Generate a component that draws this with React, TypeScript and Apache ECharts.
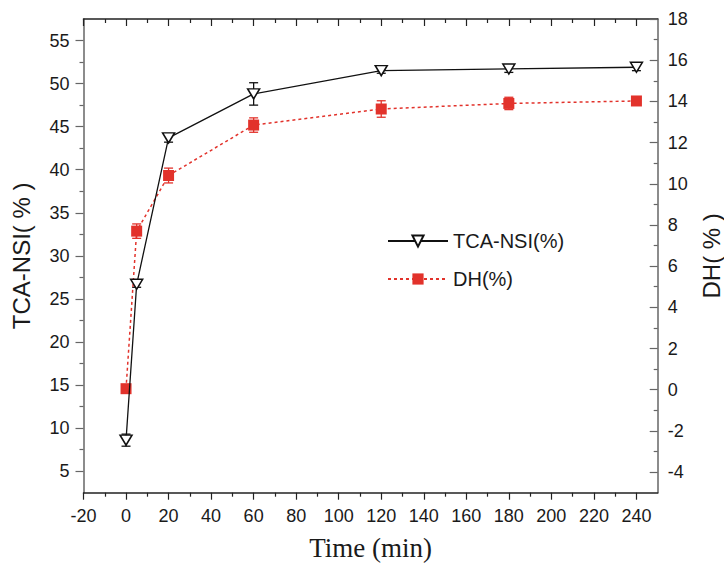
import { useEffect, useRef } from 'react';
import * as echarts from 'echarts';

// Hydrolysis time course: TCA-soluble nitrogen index and degree of hydrolysis
const timeMin = [0, 5, 20, 60, 120, 180, 240];
const tcaNsi = [8.6, 26.7, 43.7, 48.8, 51.5, 51.7, 51.9];
const tcaNsiErr = [0.7, 0.35, 0.5, 1.3, 0.3, 0.4, 0.4];
const dh = [0.05, 7.7, 10.4, 12.85, 13.63, 13.9, 14.02];
const dhErr = [0, 0.35, 0.36, 0.35, 0.4, 0.3, 0.2];

// Tick positions
const xMajor = [-20, 0, 20, 40, 60, 80, 100, 120, 140, 160, 180, 200, 220, 240];
const xMinor = [-10, 10, 30, 50, 70, 90, 110, 130, 150, 170, 190, 210, 230];
const leftMajor = [5, 10, 15, 20, 25, 30, 35, 40, 45, 50, 55];
const leftMinor = [7.5, 12.5, 17.5, 22.5, 27.5, 32.5, 37.5, 42.5, 47.5, 52.5];
const rightMajor = [-4, -2, 0, 2, 4, 6, 8, 10, 12, 14, 16, 18];
const rightMinor = [-3, -1, 1, 3, 5, 7, 9, 11, 13, 15, 17];

const BLACK = '#111111';
const RED = '#e2322b';
const AXIS_DARK = '#222222';
const AXIS_GRAY = '#666666';
const SANS = '"Liberation Sans", Arial, sans-serif';
const SERIF = '"Liberation Serif", "Times New Roman", serif';

const X_RANGE = { min: -20, max: 250 };
const LEFT_RANGE = { min: 2.5, max: 57.5 };
const RIGHT_RANGE = { min: -5, max: 18 };

function errorBarRenderer(color: string) {
  return (_params: any, api: any) => {
    const x = api.value(0);
    const lo = api.coord([x, api.value(1)]);
    const hi = api.coord([x, api.value(2)]);
    const hw = 4.5;
    const style = { stroke: color, lineWidth: 1.3, fill: 'none' };
    return {
      type: 'group',
      children: [
        { type: 'line', shape: { x1: lo[0], y1: lo[1], x2: hi[0], y2: hi[1] }, style },
        { type: 'line', shape: { x1: lo[0] - hw, y1: lo[1], x2: lo[0] + hw, y2: lo[1] }, style },
        { type: 'line', shape: { x1: hi[0] - hw, y1: hi[1], x2: hi[0] + hw, y2: hi[1] }, style },
      ],
    };
  };
}

function errorData(values: number[], errs: number[]) {
  return timeMin
    .map((t, i) => [t, values[i] - errs[i], values[i] + errs[i], errs[i]])
    .filter((d) => d[3] > 0);
}

function tickAxis(position: string, values: number[], inside: boolean, length: number, color: string, range: any, showLine: boolean) {
  return {
    type: 'value',
    position,
    ...range,
    axisLine: { show: showLine, onZero: false, lineStyle: { color, width: 1.5 } },
    axisTick: { show: true, inside, length, customValues: values, lineStyle: { color, width: 1.2 } },
    axisLabel: { show: false },
    splitLine: { show: false },
  };
}

export default function App() {
  const ref = useRef<HTMLDivElement>(null);

  useEffect(() => {
    if (!ref.current) return;
    const chart = echarts.init(ref.current, undefined, { renderer: 'svg' });

    const labelStyle = { fontFamily: SANS, fontSize: 18, color: '#1a1a1a' };

    chart.setOption({
      animation: false,
      backgroundColor: '#ffffff',
      grid: { left: 83.5, right: 66.3, top: 19, bottom: 70.3, containLabel: false, outerBoundsMode: 'none' },
      legend: {
        orient: 'vertical',
        left: 387,
        top: 231,
        padding: 0,
        itemWidth: 60,
        itemHeight: 14,
        itemGap: 18,
        textStyle: { fontFamily: SANS, fontSize: 20, color: '#1a1a1a' },
        data: ['TCA-NSI(%)', 'DH(%)'],
      },
      xAxis: [
        {
          type: 'value',
          position: 'bottom',
          ...X_RANGE,
          name: 'Time (min)',
          nameLocation: 'middle',
          nameGap: 42,
          nameTextStyle: { fontFamily: SERIF, fontSize: 27, color: '#1a1a1a' },
          axisLine: { show: true, onZero: false, lineStyle: { color: AXIS_DARK, width: 1.5 } },
          axisTick: { show: true, inside: false, length: 7, customValues: xMajor, lineStyle: { color: AXIS_DARK, width: 1.2 } },
          axisLabel: { ...labelStyle, margin: 14, customValues: xMajor },
          splitLine: { show: false },
        },
        tickAxis('bottom', xMinor, false, 4, AXIS_DARK, X_RANGE, false),
        tickAxis('top', xMajor, true, 7, AXIS_DARK, X_RANGE, true),
        tickAxis('top', xMinor, true, 4, AXIS_DARK, X_RANGE, false),
      ],
      yAxis: [
        {
          type: 'value',
          position: 'left',
          ...LEFT_RANGE,
          name: 'TCA-NSI( % )',
          nameLocation: 'middle',
          nameGap: 50,
          nameRotate: 90,
          nameTextStyle: { fontFamily: SANS, fontSize: 24, color: '#1a1a1a' },
          axisLine: { show: true, onZero: false, lineStyle: { color: AXIS_GRAY, width: 1.5 } },
          axisTick: { show: true, inside: false, length: 8, customValues: leftMajor, lineStyle: { color: AXIS_GRAY, width: 1.2 } },
          axisLabel: { ...labelStyle, margin: 14, customValues: leftMajor },
          splitLine: { show: false },
        },
        tickAxis('left', leftMinor, false, 4, AXIS_GRAY, LEFT_RANGE, false),
        {
          type: 'value',
          position: 'right',
          ...RIGHT_RANGE,
          name: 'DH( % )',
          nameLocation: 'middle',
          nameGap: 42,
          nameRotate: 90,
          nameTextStyle: { fontFamily: SANS, fontSize: 24, color: '#1a1a1a' },
          axisLine: { show: true, onZero: false, lineStyle: { color: AXIS_GRAY, width: 1.5 } },
          axisTick: { show: true, inside: true, length: 8, customValues: rightMajor, lineStyle: { color: AXIS_GRAY, width: 1.2 } },
          axisLabel: { ...labelStyle, margin: 10, customValues: rightMajor },
          splitLine: { show: false },
        },
        tickAxis('right', rightMinor, true, 4, AXIS_GRAY, RIGHT_RANGE, false),
      ],
      series: [
        {
          type: 'custom',
          name: 'TCA-NSI error',
          xAxisIndex: 0,
          yAxisIndex: 0,
          z: 1,
          renderItem: errorBarRenderer(BLACK),
          data: errorData(tcaNsi, tcaNsiErr),
        },
        {
          type: 'custom',
          name: 'DH error',
          xAxisIndex: 0,
          yAxisIndex: 2,
          z: 1,
          renderItem: errorBarRenderer(RED),
          data: errorData(dh, dhErr),
        },
        {
          type: 'line',
          name: 'DH(%)',
          xAxisIndex: 0,
          yAxisIndex: 2,
          z: 3,
          data: timeMin.map((t, i) => [t, dh[i]]),
          symbol: 'rect',
          symbolSize: 11,
          itemStyle: { color: RED },
          lineStyle: { color: RED, width: 1.5, type: [3, 3] },
        },
        {
          type: 'line',
          name: 'TCA-NSI(%)',
          xAxisIndex: 0,
          yAxisIndex: 0,
          z: 4,
          data: timeMin.map((t, i) => [t, tcaNsi[i]]),
          symbol: 'triangle',
          symbolRotate: 180,
          symbolSize: [12, 10],
          itemStyle: { color: '#ffffff', borderColor: BLACK, borderWidth: 1.5 },
          lineStyle: { color: BLACK, width: 1.3 },
        },
      ],
    });

    return () => chart.dispose();
  }, []);

  return (
    <div
      ref={ref}
      style={{ position: 'fixed', left: 0, top: 0, width: 724, height: 563, background: '#fff' }}
    />
  );
}
